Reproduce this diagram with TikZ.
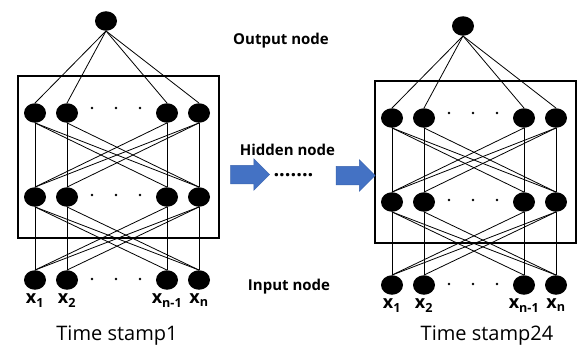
\documentclass[tikz,border=0pt]{standalone}
\usepackage{fontspec}
\setmainfont{Open Sans}
\usetikzlibrary{positioning,shapes.geometric,shapes.arrows}
\definecolor{flowblue}{HTML}{4472C4}
\definecolor{flowedge}{HTML}{3A64AE}

\begin{document}
\begin{tikzpicture}[x=1pt, y=-1pt,
    neuron/.style={ellipse, fill=black, minimum width=22pt, minimum height=19.5pt, inner sep=0pt},
    link/.style={draw=black, line width=0.8pt},
    layerbox/.style={draw=black, line width=1.8pt, minimum width=201pt, minimum height=162pt, inner sep=0pt},
    tag/.style={font=\bfseries\fontsize{15}{17}\selectfont},
    xname/.style={font=\bfseries\fontsize{18}{20}\selectfont, inner sep=0pt},
    stamp/.style={font=\fontsize{20}{23}\selectfont, anchor=base, inner sep=0pt},
    flow/.style={single arrow, fill=flowblue, draw=flowedge, line width=0.5pt, minimum height=39pt, single arrow head extend=6.5pt, inner xsep=0pt, inner ysep=9pt}
    ]
    \useasboundingbox (0,0) rectangle (585,345);

        %Networks
        \foreach \net/\dx/\dy/\stamp/\sx/\sy in {L/0/0/Time stamp1/117/340, R/357/5/Time stamp24/130/335}{
        \begin{scope}[shift={(\dx,\dy)}, name prefix=\net-]
            %Nodes
            \node[neuron] (out) at (106,21) {};
            \foreach \i/\x/\sub in {1/35/1, 2/67/2, 3/167/n-1, 4/199/n}{
                \node[neuron] (hid\i) at (\x,113) {};
                \node[neuron] (hidb\i) at (\x,197) {};
                \node[neuron] (inp\i) at (\x,280) {};
                \node[xname] (x\i) [below=4pt of inp\i] {x\textsubscript{\sub}};
            }
            \node[layerbox] (box) at (118.5,157) {};
            \node[stamp] (caption) at (\sx,\sy) {\stamp};
            \foreach \d in {92,116,140}{
                \fill (\d,108) circle (1.3pt);
                \fill (\d,195) circle (1.3pt);
                \fill (\d,279) circle (1.3pt);
            }

            %Lines
            \foreach \i in {1,...,4}
                \draw[link] (out.south) -- (hid\i.north);
            \foreach \a/\b in {1/1,2/2,3/3,4/4,1/3,1/4,2/4,3/1,4/1,4/2}{
                \draw[link] (hid\a.south) -- (hidb\b.north);
                \draw[link] (hidb\a.south) -- (inp\b.north);
            }
        \end{scope}
        }

        %Labels
        \node[tag] (outtag) at (281,41) {Output node};
        \node[tag] (hidtag) at (287.5,150) {Hidden node};
        \node[tag] (inptag) at (289,287) {Input node};

        %Arrows
        \node[flow] (flow1) at (245.5,174.5) {};
        \node[flow] (flow2) at (351,175.5) {};
        \node[font=\bfseries\fontsize{20}{22}\selectfont, anchor=base, inner sep=0pt] (gap) at (293.5,176) {.......};
\end{tikzpicture}
\end{document}
